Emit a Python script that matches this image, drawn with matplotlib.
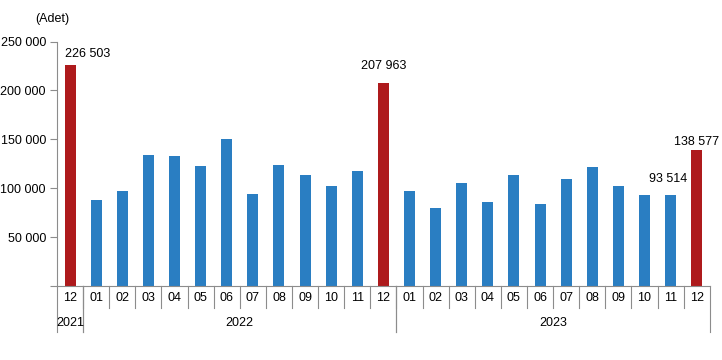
#!/usr/bin/env python3
"""Monthly counts (Adet), Dec 2021 - Dec 2023, year-end months highlighted."""

import matplotlib.pyplot as plt
import matplotlib.transforms as mtransforms

plt.rcParams["font.family"] = ["Liberation Sans", "DejaVu Sans"]

months = ["12", "01", "02", "03", "04", "05", "06", "07", "08", "09", "10", "11", "12",
          "01", "02", "03", "04", "05", "06", "07", "08", "09", "10", "11", "12"]
years = ["2021", "2022", "2023"]
year_spans = [(0, 0), (1, 12), (13, 24)]
values = [226503, 88000, 97100, 134000, 133000, 122700, 150300, 94000, 123700,
          113500, 102200, 117600, 207963, 97100, 79700, 105300, 85900, 113500,
          83800, 109400, 121700, 102200, 93000, 93514, 138577]
# index -> (dx, dy) in points and horizontal alignment of the value label
labelled = {0: (-4, 3, "left"), 12: (0, 8, "center"),
            23: (-2, 7, "center"), 24: (0, 2, "center")}

BLUE = "#2a7ec2"
RED = "#ae1a1c"
GRAY = "#8c8c8c"


def main() -> None:
    fig = plt.figure(figsize=(7.22, 3.6), dpi=100)
    ax = fig.add_axes([0.079, 0.2056, 0.904, 0.679])
    x = list(range(len(values)))
    colors = [RED if m == "12" else BLUE for m in months]
    ax.bar(x, values, width=0.42, color=colors, zorder=2)

    for i, (dx, dy, ha) in labelled.items():
        ax.annotate(f"{values[i]:,}".replace(",", " "), (x[i], values[i]),
                    xytext=(dx, dy), textcoords="offset points",
                    ha=ha, va="bottom", fontsize=9, annotation_clip=False)

    ax.set_xlim(-0.5, len(values) - 0.5)
    ax.set_ylim(0, 250000)
    ax.set_yticks(range(0, 250001, 50000))
    ax.set_yticklabels([""] + [f"{v:,}".replace(",", " ")
                               for v in range(50000, 250001, 50000)])
    ax.tick_params(axis="y", length=5, color=GRAY, labelsize=9, pad=3)
    ax.set_xticks([])
    for side in ("top", "right"):
        ax.spines[side].set_visible(False)
    for side in ("left", "bottom"):
        ax.spines[side].set_color(GRAY)

    trans = mtransforms.blended_transform_factory(ax.transData, ax.transAxes)
    for i, m in enumerate(months):
        ax.text(i, -0.05, m, transform=trans, ha="center", va="center", fontsize=9)
    for b in range(1, len(values)):
        ax.plot([b - 0.5, b - 0.5], [0, -0.09], transform=trans, color=GRAY,
                lw=0.8, clip_on=False)
    for (a, b), yr in zip(year_spans, years):
        ax.text((a + b) / 2, -0.152, yr, transform=trans, ha="center",
                va="center", fontsize=9)
        for edge in (a - 0.5, b + 0.5):
            ax.plot([edge, edge], [0, -0.19], transform=trans, color=GRAY,
                    lw=0.8, clip_on=False)

    fig.text(0.072, 0.948, "(Adet)", ha="center", va="center", fontsize=9)
    fig.savefig("out.png", dpi=100)
    plt.close(fig)


if __name__ == "__main__":
    main()
